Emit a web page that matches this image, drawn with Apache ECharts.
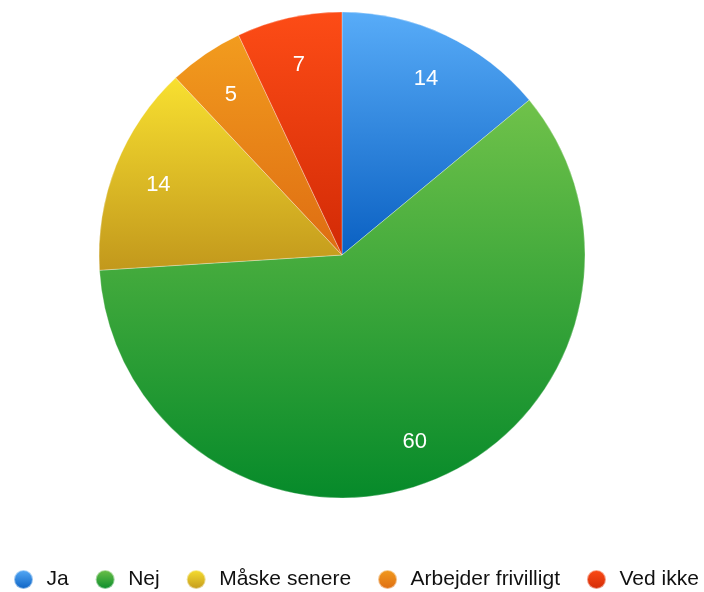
<!DOCTYPE html>
<html>
<head>
<meta charset="utf-8">
<script src="https://cdn.jsdelivr.net/npm/echarts@6/dist/echarts.min.js"></script>
<style>
html,body{margin:0;padding:0;background:#fff;}
#chart{width:704px;height:592px;}
</style>
</head>
<body>
<div id="chart"></div>
<script>
const categories = ['Ja', 'Nej', 'Måske senere', 'Arbejder frivilligt', 'Ved ikke'];
const values = [14, 60, 14, 5, 7];
const topColors = ['#58acf8', '#70c24a', '#f8e030', '#f29c1e', '#fd4c16'];
const bottomColors = ['#0a60c2', '#068a2a', '#c2981c', '#de6c12', '#d22a06'];

function grad(i) {
  return new echarts.graphic.LinearGradient(0, 0, 0, 1, [
    { offset: 0, color: topColors[i] },
    { offset: 1, color: bottomColors[i] }
  ]);
}

const chart = echarts.init(document.getElementById('chart'), null, { renderer: 'canvas' });
const font = "'Liberation Sans', Arial, Helvetica, sans-serif";

const mainData = categories.map((c, i) => ({
  name: c, value: values[i], itemStyle: { color: grad(i) }
}));
const labelData = categories.map((c, i) => ({ name: c, value: values[i] }));

chart.setOption({
  animation: false,
  legend: {
    left: 8,
    top: 564,
    icon: 'circle',
    itemWidth: 36,
    itemHeight: 19,
    itemGap: 26,
    textStyle: { fontSize: 21, color: '#111', fontFamily: font },
    data: categories
  },
  series: [
    {
      type: 'pie',
      center: [342, 255],
      radius: [0, 243],
      startAngle: 90,
      clockwise: true,
      silent: true,
      label: { show: false },
      labelLine: { show: false },
      itemStyle: { borderWidth: 0.6, borderColor: 'rgba(255,255,255,0.5)' },
      emphasis: { disabled: true },
      data: mainData
    },
    {
      type: 'pie',
      center: [342, 255],
      radius: [146, 243],
      startAngle: 90,
      clockwise: true,
      silent: true,
      itemStyle: { color: 'rgba(0,0,0,0)' },
      label: {
        show: true,
        position: 'inside',
        formatter: '{c}',
        color: '#fff',
        fontSize: 22,
        fontFamily: font,
        offset: [0, 3]
      },
      labelLine: { show: false },
      emphasis: { disabled: true },
      data: labelData
    }
  ]
});
</script>
</body>
</html>
